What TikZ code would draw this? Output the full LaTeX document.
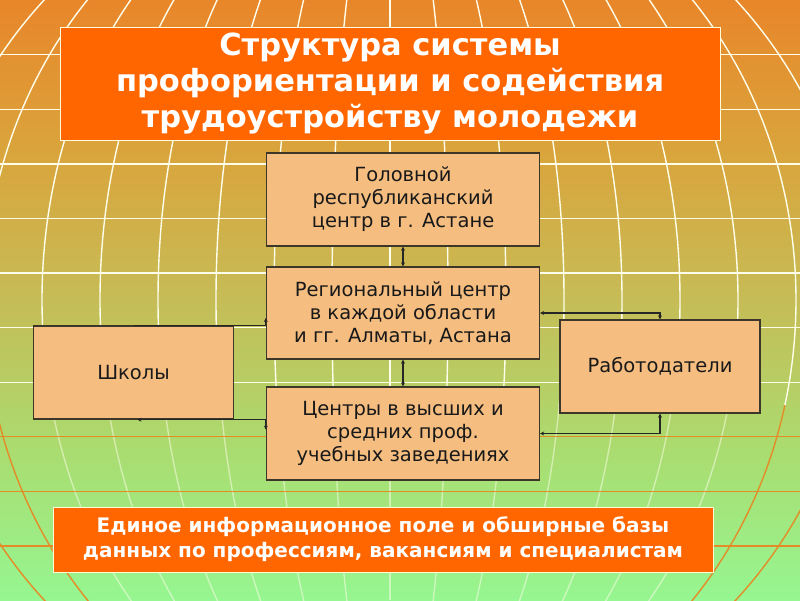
\documentclass[tikz,border=0pt]{standalone}
\usepackage{fontspec}
\setmainfont{DejaVu Sans}
\usetikzlibrary{arrows.meta, calc}

\definecolor{bgtop}{RGB}{232,134,42}
\definecolor{bghigh}{RGB}{218,164,60}
\definecolor{bgmid}{RGB}{198,188,86}
\definecolor{bglow}{RGB}{170,220,112}
\definecolor{bgbot}{RGB}{150,246,145}
\definecolor{hot}{RGB}{255,102,0}
\definecolor{peach}{RGB}{245,190,128}
\definecolor{rim}{RGB}{60,55,40}
\definecolor{wire}{RGB}{228,140,40}

\pgfdeclareverticalshading{globebg}{100bp}{color(0bp)=(bgbot); color(25bp)=(bgbot);
  color(37.5bp)=(bglow); color(50bp)=(bgmid); color(62.5bp)=(bghigh);
  color(75bp)=(bgtop); color(100bp)=(bgtop)}

\begin{document}
\begin{tikzpicture}[
  x=1pt, y=-1pt,
  grid/.style={draw=white!92!yellow, line width=1.4pt},
  box/.style={rectangle, draw=rim, line width=1.3pt, fill=peach, align=center,
    inner sep=0pt, text=black!90, font=\fontsize{19.5}{23}\selectfont},
  hotbox/.style={rectangle, draw=white!85!yellow, line width=1pt, fill=hot, align=center,
    inner sep=0pt, text=white},
  link/.style={draw=black!85, line width=1.2pt},
  tip/.tip={Stealth[length=4pt,width=4pt]}
]
  % Background with globe grid
  \shade[shading=globebg] (0,0) rectangle (800,600);
  \useasboundingbox (0,0) rectangle (800,600);
  \begin{scope}
    \clip (0,0) rectangle (800,405);
    \foreach \k in {1,...,8}
      \draw[grid] (390,300) ellipse [x radius=58*\k, y radius=450];
    \draw[grid] (390,0) -- (390,600);
    \foreach \k in {1,...,7}
      \draw[grid] (0,54.6*\k) -- (800,54.6*\k);
  \end{scope}
  \begin{scope}
    \clip (0,405) rectangle (800,600);
    \foreach \k in {1,...,6}
      \draw[grid, draw opacity=0.5] (390,300) ellipse [x radius=58*\k, y radius=450];
    \draw[grid, draw opacity=0.5] (390,0) -- (390,600);
    \foreach \k in {7,8}
      \draw[grid, draw=wire] (390,300) ellipse [x radius=58*\k, y radius=450];
    \foreach \k in {8,...,10}
      \draw[grid, draw=wire, line width=1.2pt] (0,54.6*\k) -- (800,54.6*\k);
  \end{scope}

  % Title
  \node[hotbox, minimum width=660pt, minimum height=113pt,
    font=\fontsize{30.5}{36}\selectfont\bfseries] (title) at (390,83.5)
    {Структура системы\\профориентации и содействия\\трудоустройству молодежи};

  % Central column
  \node[box, minimum width=273pt, minimum height=93pt] (head) at (403,199.5)
    {Головной\\республиканский\\центр в г. Астане};
  \node[box, minimum width=273pt, minimum height=92pt] (region) at (403,313)
    {Региональный центр\\в каждой области\\и гг. Алматы, Астана};
  \node[box, minimum width=273pt, minimum height=93pt] (centers) at (403,433.5)
    {Центры в высших и\\средних проф.\\учебных заведениях};

  % Side boxes
  \node[box, minimum width=200pt, minimum height=93pt] (schools) at (133.5,372.5) {Школы};
  \node[box, minimum width=200pt, minimum height=93pt] (employers) at (660,366.5) {Работодатели};

  % Bottom banner
  \node[hotbox, minimum width=660pt, minimum height=65pt,
    font=\fontsize{20}{25}\selectfont\bfseries] (base) at (383,539.5)
    {Единое информационное поле и обширные базы\\данных по профессиям, вакансиям и специалистам};

  % Links
  \draw[link, {tip}-{tip}] (head.south) -- (region.north);
  \draw[link, {tip}-{tip}] (region.south) -- (centers.north);
  \coordinate (sin) at ([yshift=-5pt]region.west);
  \draw[link, -{tip}] (schools.north) -- (schools.north -| region.west) -- (sin);
  \coordinate (sout) at ([xshift=4pt]schools.south);
  \coordinate (cin) at ([yshift=-10pt]sout -| centers.west);
  \draw[link, {tip}-{tip}] (sout) -- (sout -| centers.west) -- (cin);
  \draw[link, {tip}-{tip}] (region.east) -| (employers.north);
  \draw[link, {tip}-{tip}] (centers.east) -| (employers.south);
\end{tikzpicture}
\end{document}
